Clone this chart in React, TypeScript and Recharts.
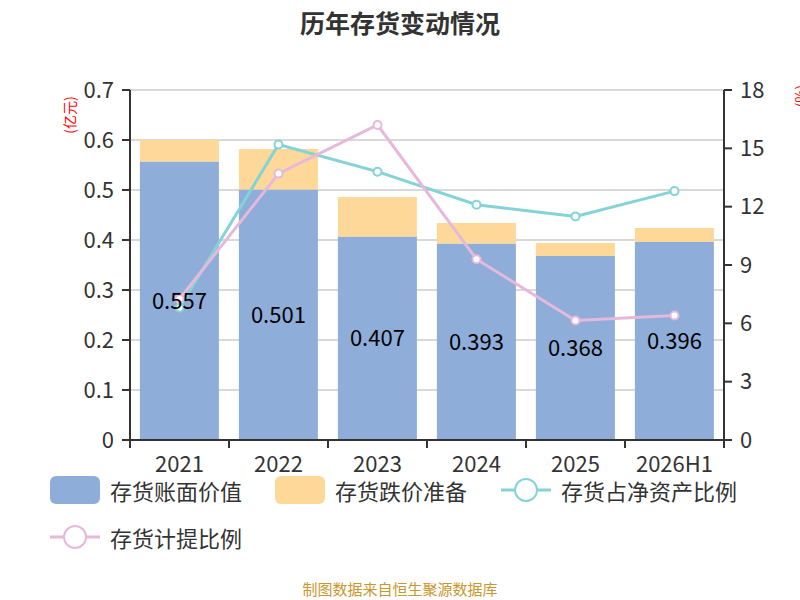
import { ComposedChart, Bar, Line, XAxis, YAxis, CartesianGrid, LabelList } from "recharts";

const years = ["2021", "2022", "2023", "2024", "2025", "2026H1"];
const bookValue = [0.557, 0.501, 0.407, 0.393, 0.368, 0.396];
const impairment = [0.043, 0.081, 0.079, 0.041, 0.026, 0.028];
const netAssetRatio = [6.8, 15.2, 13.8, 12.1, 11.5, 12.8];
const provisionRatio = [7.25, 13.7, 16.2, 9.3, 6.15, 6.4];
const leftTicks = [0, 0.1, 0.2, 0.3, 0.4, 0.5, 0.6, 0.7];
const rightTicks = [0, 3, 6, 9, 12, 15, 18];

const data = years.map((y, i) => ({
  year: y,
  book: bookValue[i],
  imp: impairment[i],
  ratio: netAssetRatio[i],
  prov: provisionRatio[i],
}));

const FONT = '"Noto Sans CJK SC", "Noto Sans", sans-serif';
const BLUE = "#8eadd9";
const ORANGE = "#fed898";
const CYAN = "#84d3d6";
const PINK = "#e6b9da";
const BAND = 594 / years.length;

// echarts-like ticks between categories
const XTick = (props: any) => {
  const { x, y, payload, index } = props;
  const left = x - BAND / 2;
  return (
    <g>
      <line x1={left} y1={y - 16} x2={left} y2={y - 8} stroke="#333" strokeWidth={2} />
      {index === years.length - 1 && (
        <line x1={left + BAND} y1={y - 16} x2={left + BAND} y2={y - 8} stroke="#333" strokeWidth={2} />
      )}
      <text x={x} y={y} dy="0.71em" textAnchor="middle" fontSize={22} fill="#333" fontFamily={FONT}>
        {payload.value}
      </text>
    </g>
  );
};

const dot = (color: string) => ({ r: 4, fill: "#fff", stroke: color, strokeWidth: 2 });

const LegendLine = ({ color }: { color: string }) => (
  <svg width={50} height={28} style={{ marginRight: 10 }}>
    <line x1={0} y1={14} x2={50} y2={14} stroke={color} strokeWidth={3} />
    <circle cx={25} cy={14} r={11} fill="#fff" stroke={color} strokeWidth={2} />
  </svg>
);

const LegendBox = ({ color }: { color: string }) => (
  <div style={{ width: 50, height: 28, borderRadius: 6, background: color, marginRight: 10 }} />
);

const item = (left: number, top: number, mark: any, label: string) => (
  <div
    style={{
      position: "absolute",
      left,
      top,
      display: "flex",
      alignItems: "center",
      fontSize: 22,
      color: "#333",
      fontFamily: FONT,
      whiteSpace: "nowrap",
    }}
  >
    {mark}
    <span>{label}</span>
  </div>
);

export default function App() {
  return (
    <div style={{ position: "absolute", left: 0, top: 0, width: 800, height: 600, background: "#fff", overflow: "hidden" }}>
      <div
        style={{
          position: "absolute",
          top: 4,
          width: 800,
          textAlign: "center",
          fontSize: 25,
          fontWeight: "bold",
          color: "#333",
          fontFamily: FONT,
        }}
      >
        历年存货变动情况
      </div>
      <ComposedChart
        width={800}
        height={600}
        data={data}
        margin={{ top: 90, right: 16, left: 60, bottom: 130 }}
        barCategoryGap="10%"
        style={{ fontFamily: FONT }}
      >
        <CartesianGrid yAxisId="left" vertical={false} stroke="#ccc" strokeWidth={1.5} />
        <XAxis
          dataKey="year"
          tick={<XTick />}
          tickLine={false}
          tickSize={8}
          tickMargin={8}
          height={30}
          stroke="#333"
          strokeWidth={2}
          interval={0}
        />
        <YAxis
          yAxisId="left"
          width={70}
          domain={[0, 0.7]}
          ticks={leftTicks}
          tickSize={8}
          tickMargin={8}
          stroke="#333"
          strokeWidth={2}
          tick={{ fontSize: 22, fill: "#333" }}
        />
        <YAxis
          yAxisId="right"
          orientation="right"
          width={60}
          domain={[0, 18]}
          ticks={rightTicks}
          tickSize={8}
          tickMargin={8}
          stroke="#333"
          strokeWidth={2}
          tick={{ fontSize: 22, fill: "#333" }}
        />
        <Bar yAxisId="left" dataKey="book" stackId="a" fill={BLUE} isAnimationActive={false}>
          <LabelList dataKey="book" position="center" fontSize={22} fill="#000" />
        </Bar>
        <Bar yAxisId="left" dataKey="imp" stackId="a" fill={ORANGE} isAnimationActive={false} />
        <Line
          yAxisId="right"
          dataKey="ratio"
          stroke={CYAN}
          strokeWidth={3}
          dot={dot(CYAN)}
          type="linear"
          isAnimationActive={false}
        />
        <Line
          yAxisId="right"
          dataKey="prov"
          stroke={PINK}
          strokeWidth={3}
          dot={dot(PINK)}
          type="linear"
          isAnimationActive={false}
        />
        <text x={69} y={115} transform="rotate(-90 69 115)" textAnchor="middle" dominantBaseline="central" fontSize={14} fill="#f00">
          (亿元)
        </text>
        <text x={800} y={96} transform="rotate(-90 800 96)" textAnchor="middle" dominantBaseline="central" fontSize={14} fill="#f00">
          (%)
        </text>
      </ComposedChart>
      {item(50, 474, <LegendBox color={BLUE} />, "存货账面价值")}
      {item(275, 474, <LegendBox color={ORANGE} />, "存货跌价准备")}
      {item(501, 474, <LegendLine color={CYAN} />, "存货占净资产比例")}
      {item(50, 521, <LegendLine color={PINK} />, "存货计提比例")}
      <div
        style={{
          position: "absolute",
          top: 578,
          width: 800,
          textAlign: "center",
          fontSize: 15,
          color: "#c9972e",
          fontFamily: FONT,
        }}
      >
        制图数据来自恒生聚源数据库
      </div>
    </div>
  );
}
